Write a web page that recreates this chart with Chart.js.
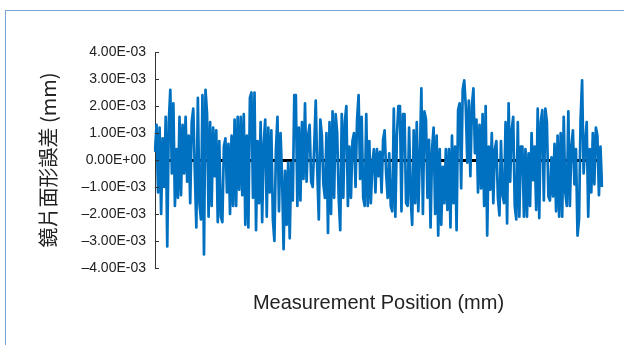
<!DOCTYPE html>
<html>
<head>
<meta charset="utf-8">
<script src="https://cdn.jsdelivr.net/npm/chart.js@4"></script>
<style>
  body { margin: 0; background: #fff; }
  #wrap { position: relative; width: 624px; height: 345px; overflow: hidden; }
  #frame { position: absolute; left: 5px; top: 10px; width: 700px; height: 400px;
           border-left: 1.5px solid #7ba6d6; border-top: 1.5px solid #7ba6d6; }
  #chart { position: absolute; left: 0; top: 0; }
</style>
</head>
<body>
<div id="wrap">
  <div id="frame"></div>
  <canvas id="chart" width="624" height="345"></canvas>
</div>
<script>
// surface form error, in units of 1E-03 mm left to right
const errSeg1 = [0.3, 1.3, -1.2, 1.2, -2.0, 0.8, -1.0, 1.6, -3.2, 1.4, 2.6, -0.5, 2.1, -1.7, 0.4, -1.4, 1.6, -1.3, 1.3, -0.5, 1.6, -0.8, 0.9, -1.6, 1.4, 1.9, -0.4, -2.5, 2.3, -1.6, -2.2, 2.4, -3.5, 2.6, 1.7, -2.1, 1.4, -1.7, 1.2, -0.6, 1.1, -2.3, 0.7, -2.1];
const errSeg2 = [-2.3, 0.5, 0.8, -1.2, 0.6, -2.0, 0.9, -1.7, 1.5, -1.7, 1.6, -1.1, 1.6, -1.3, 1.7, -2.4, 0.9, -2.5, 2.3, 2.5, -1.4, 2.5, -2.6, 0.7, -1.6, 1.4, -2.3, 0.6, 1.5, -2.1, 1.2, -1.2, 1.1, -2.2, -3.0, 0.4, 1.6, -1.9, 1.0, -0.6, -3.3, -0.4, -2.4, -0.1, -2.9, -0.1, -1.5, 2.4];
const errSeg3 = [2.4, -1.7, 1.2, -1.5, 1.4, -0.7, 2.1, -0.8, 0.9, 1.3, -0.8, -1.0, 0.5, 2.2, -0.4, -2.2, 1.5, 0.9, -0.9, -1.4, 1.0, -2.7, 1.4, -2.0, 1.8, -1.4, 1.7, 1.0, -1.4, -2.6, 1.7, -1.4, 1.4, 2.0, -1.7, 0.5, -1.4, 0.7, 1.0, -1.0, 1.5, 2.4, -0.7, 1.6, -1.4, -1.7, 1.7, -1.7, 0.7];
const errSeg4 = [-1.6, -0.1, 0.4, -1.2, 0.4, -0.6, 0.3, -1.2, 0.75, 1.1, -0.5, -1.4, 0.25, -1.7, -1.9, 1.9, -2.1, 0.9, 2.0, 2.0, -1.9, 1.7, 1.7, -1.6, -1.7, 1.2, -1.4, -2.4, 1.1, -1.6, 1.4, -1.9, 0.1, 2.65, -2.0, 1.8, 1.5, -1.4, 0.75, -2.5, 0.4, 1.2, -2.0, 0.9, -2.8, 0.4, -2.4, -0.25, -1.6, 0.4];
const errSeg5 = [-1.85, 0.4, -2.5, 0.9, -1.6, 0.5, -2.6, 1.85, 2.1, -1.05, 2.6, 2.95, 2.0, -0.1, 2.2, -0.6, 2.0, 2.65, 0.25, 1.5, -1.2, 1.3, -1.05, 1.7, -1.7, 2.0, -2.8, 0.5, -1.1, 1.0, -1.6, 0.4, 0.7, -1.4, -2.05, 0.7, -1.3, -1.6, 1.4, -2.35, 2.1, -0.8, 1.1, 1.6, -1.7, -2.2, 1.4, -2.1, 0.5];
const errSeg6 = [0.5, -2.1, 0.4, -2.1, 0.25, -1.7, 1.0, -0.75, 0.5, -1.85, 1.9, -2.15, 1.4, 1.85, -1.5, 1.9, 1.4, -1.35, -1.5, 0.1, -1.35, 0.6, -1.9, 0.9, -2.1, 1.0, -2.1, 1.6, -1.2, -1.7, 1.8, -1.7, 0.5, 1.1, -0.9, 0.4, -2.8, -2.2, 1.5, 2.95, -0.5, 0.6, 1.4, -2.1, 0.4, -1.2, 1.0, -0.9, 1.2, 0.9, -1.3, 0.5, -1.0];

const formError = [...errSeg1, ...errSeg2, ...errSeg3, ...errSeg4, ...errSeg5, ...errSeg6];
const positions = formError.map((_, i) => i + 1);

const yTickValues = [-4, -3, -2, -1, 0, 1, 2, 3, 4];
const yTickLabels = ['\u20134.00E-03', '\u20133.00E-03', '\u20132.00E-03', '\u20131.00E-03', '0.00E+00',
                     '1.00E-03', '2.00E-03', '3.00E-03', '4.00E-03'];

const FONT = "'Liberation Sans', Arial, Helvetica, sans-serif";

// short tick marks pointing into the plot, like the original
const innerTicks = {
  id: 'innerTicks',
  afterDraw(chart) {
    const y = chart.scales.y;
    const ctx = chart.ctx;
    ctx.save();
    ctx.strokeStyle = '#333';
    ctx.lineWidth = 1;
    y.ticks.forEach(t => {
      const py = Math.round(y.getPixelForValue(t.value)) + 0.5;
      ctx.beginPath();
      ctx.moveTo(y.right, py);
      ctx.lineTo(y.right + 4, py);
      ctx.stroke();
    });
    ctx.restore();
  }
};

new Chart(document.getElementById('chart').getContext('2d'), {
  type: 'line',
  data: {
    labels: positions,
    datasets: [{
      data: formError,
      borderColor: '#0070c0',
      borderWidth: 2.7,
      borderJoinStyle: 'round',
      pointRadius: 0,
      tension: 0,
      fill: false
    }]
  },
  options: {
    responsive: false,
    animation: false,
    layout: { padding: { top: 52, right: 22, bottom: 0, left: 0 } },
    plugins: { legend: { display: false }, tooltip: { enabled: false } },
    scales: {
      x: {
        offset: false,
        grid: { display: false },
        border: { display: false },
        ticks: { display: false },
        title: {
          display: true,
          text: 'Measurement Position (mm)',
          color: '#222',
          font: { family: FONT, size: 20 },
          padding: { top: 0, bottom: 30 }
        },
        afterFit(scale) { scale.height = 77; }
      },
      y: {
        min: -4,
        max: 4,
        afterBuildTicks(scale) { scale.ticks = yTickValues.map(v => ({ value: v })); },
        ticks: {
          padding: 9,
          color: '#222',
          font: { family: FONT, size: 14 },
          callback: (v) => yTickLabels[yTickValues.indexOf(v)]
        },
        grid: {
          drawTicks: false,
          color: (c) => (c.tick && c.tick.value === 0 ? '#000' : 'rgba(0,0,0,0)'),
          lineWidth: (c) => (c.tick && c.tick.value === 0 ? 3 : 0)
        },
        border: { display: true, color: '#333', width: 1 },
        title: {
          display: true,
          text: '鏡片面形誤差 (mm)',
          color: '#222',
          font: { family: "'Noto Sans CJK TC', 'Liberation Sans', sans-serif", size: 20 },
          padding: { top: 36, bottom: 0 }
        },
        afterFit(scale) { scale.width = 155; }
      }
    }
  },
  plugins: [innerTicks]
});
</script>
</body>
</html>
